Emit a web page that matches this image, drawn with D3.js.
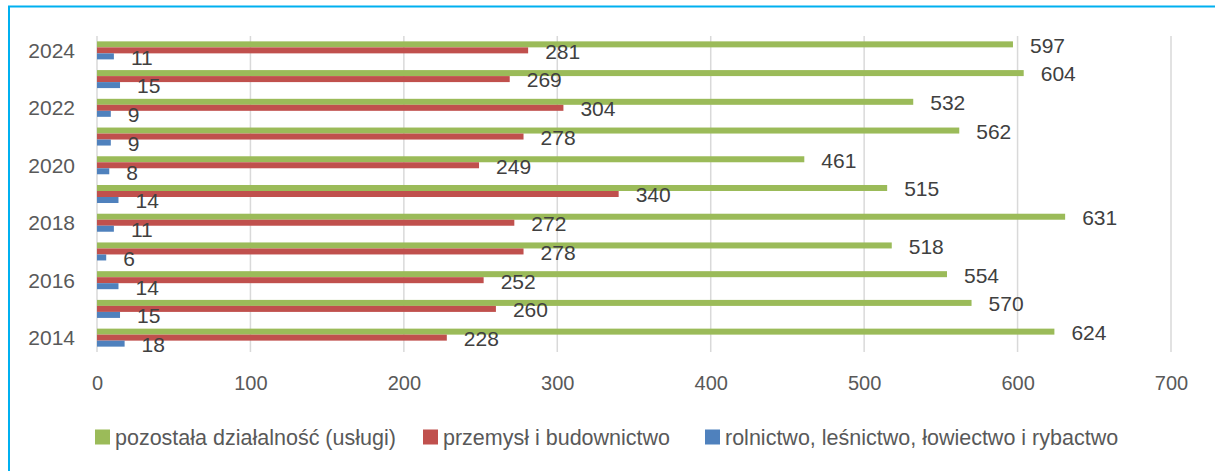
<!DOCTYPE html>
<html><head><meta charset="utf-8">
<script src="https://cdn.jsdelivr.net/npm/d3@7"></script>
<style>html,body{margin:0;padding:0;background:#fff;}svg{display:block;}</style>
</head><body>
<svg id="chart" width="1215" height="471"></svg>
<script>
const years = [2024, 2023, 2022, 2021, 2020, 2019, 2018, 2017, 2016, 2015, 2014];
const tickYears = [2024, 2022, 2020, 2018, 2016, 2014];
const seriesNames = ["pozostała działalność (usługi)", "przemysł i budownictwo", "rolnictwo, leśnictwo, łowiectwo i rybactwo"];
const uslugi =     [597, 604, 532, 562, 461, 515, 631, 518, 554, 570, 624];
const przemysl =   [281, 269, 304, 278, 249, 340, 272, 278, 252, 260, 228];
const rolnictwo =  [11, 15, 9, 9, 8, 14, 11, 6, 14, 15, 18];
const xTicks = [0, 100, 200, 300, 400, 500, 600, 700];
const colors = ["#9bbb59", "#c0504d", "#4f81bd"];

const svg = d3.select("#chart");
const W = 1215, H = 471;
const font = "'Liberation Sans', Arial, sans-serif";

// frame
svg.append("rect").attr("x", 9).attr("y", 6.5).attr("width", W + 20).attr("height", H + 20)
  .attr("fill", "none").attr("stroke", "#00b0f0").attr("stroke-width", 2);

const x = d3.scaleLinear().domain([0, 700]).range([97, 1171]);
const y = d3.scaleBand().domain(years).range([36, 352]).paddingInner(0.373).paddingOuter(0.1865);
const ys = d3.scaleBand().domain([0, 1, 2]).range([0, y.bandwidth()]);

// gridlines
svg.append("g").selectAll("line").data(xTicks).join("line")
  .attr("x1", d => x(d)).attr("x2", d => x(d))
  .attr("y1", 36).attr("y2", 352)
  .attr("stroke", "#d9d9d9").attr("stroke-width", 1.5);

// x axis labels
const xAxis = d3.axisBottom(x).tickValues(xTicks).tickSize(0).tickPadding(0);
const gx = svg.append("g").attr("transform", "translate(0,376)").call(xAxis);
gx.select(".domain").remove();
gx.selectAll("text").attr("font-family", font).attr("font-size", 20).attr("fill", "#595959").attr("dy", "0.35em").attr("y", 7);

// y axis labels
const yAxis = d3.axisLeft(y).tickValues(tickYears).tickSize(0).tickPadding(0);
const gy = svg.append("g").attr("transform", "translate(75,0)").call(yAxis);
gy.select(".domain").remove();
gy.selectAll("text").attr("font-family", font).attr("font-size", 21).attr("fill", "#595959").attr("dy", "0.35em");

const allSeries = [uslugi, przemysl, rolnictwo];
const data = [];
years.forEach((yr, i) => {
  allSeries.forEach((s, k) => data.push({ yr, k, v: s[i] }));
});

svg.append("g").selectAll("rect").data(data).join("rect")
  .attr("x", x(0)).attr("y", d => y(d.yr) + ys(d.k))
  .attr("width", d => x(d.v) - x(0)).attr("height", ys.bandwidth())
  .attr("fill", d => colors[d.k]);

svg.append("g").selectAll("text").data(data).join("text")
  .attr("x", d => x(d.v) + 17).attr("y", d => y(d.yr) + ys(d.k) + ys.bandwidth() / 2 + 1)
  .attr("dy", "0.35em")
  .attr("font-family", font).attr("font-size", 21).attr("fill", "#404040")
  .text(d => d.v);

// legend
const legendX = [95, 423, 705];
const lg = svg.append("g").selectAll("g").data(seriesNames).join("g")
  .attr("transform", (d, i) => `translate(${legendX[i]},429.5)`);
lg.append("rect").attr("width", 15).attr("height", 15).attr("fill", (d, i) => colors[i]);
lg.append("text").attr("x", 20).attr("y", 7.5).attr("dy", "0.35em")
  .attr("font-family", font).attr("font-size", 21.5).attr("fill", "#595959")
  .text(d => d);
</script>
</body></html>
